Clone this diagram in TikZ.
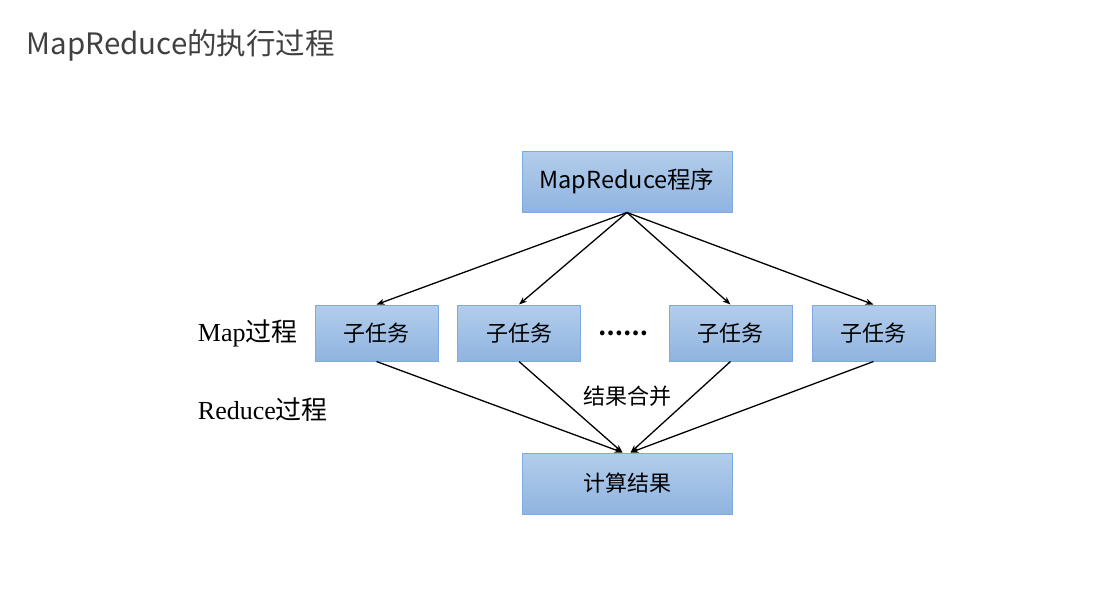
\documentclass[tikz,border=0pt]{standalone}
\usepackage{fontspec}
\setmainfont{Noto Sans CJK SC}
\newfontfamily\tnr{Liberation Serif}
\usepackage{tikz}
\usetikzlibrary{arrows.meta,positioning}

\definecolor{boxtop}{HTML}{B3CDEB}
\definecolor{boxbot}{HTML}{8FB4E0}
\definecolor{boxline}{HTML}{7FAAE0}
\definecolor{titlegray}{HTML}{404040}

\tikzset{
  task/.style={draw=boxline, line width=1pt, top color=boxtop, bottom color=boxbot,
    minimum width=123pt, minimum height=56pt, inner sep=0pt,
    font=\fontsize{22}{26}\selectfont},
  bigtask/.style={task, minimum width=210pt, minimum height=61pt},
  phase/.style={anchor=west, font=\fontsize{26}{30}\selectfont}
}

\begin{document}
\begin{tikzpicture}[x=1pt,y=-1pt,node distance=2cm,on grid,auto,
    >={Stealth[length=8pt,width=6pt]}, line width=1.3pt]
    \useasboundingbox (0,0) rectangle (1117,592);
    \node[anchor=west, text=titlegray, font=\fontsize{29.5}{34}\selectfont] (title) at (23,45) {MapReduce的执行过程};

    \node[bigtask, font=\fontsize{23.5}{28}\selectfont] (prog) at (627,181.5) {MapReduce程序};
    \node[task] (t_1) at (376.5,333) {子任务};
    \node[task] [right=142.5pt of t_1] (t_2) {子任务};
    \node [right=104pt of t_2, font=\bfseries\fontsize{22}{26}\selectfont] (dots) {……};
    \node[task] [right=107.5pt of dots] (t_3) {子任务};
    \node[task] [right=143pt of t_3] (t_4) {子任务};
    \node[bigtask] (res) at (627,483.5) {计算结果};

    \node[phase] (map) at (194,333) {{\tnr Map}过程};
    \node[phase] (reduce) at (194,410) {{\tnr Reduce}过程};
    \node[font=\fontsize{22}{26}\selectfont] (merge) at (627.5,396) {结果合并};

    \path[->]
    (prog.south) edge (t_1.north)
    (prog.south) edge (t_2.north)
    (prog.south) edge (t_3.north)
    (prog.south) edge (t_4.north)
    (t_1.south) edge ([xshift=-4.5pt]res.north)
    (t_2.south) edge ([xshift=-4.5pt]res.north)
    (t_3.south) edge ([xshift=3.5pt]res.north)
    (t_4.south) edge ([xshift=3.5pt]res.north)
    ;
\end{tikzpicture}
\end{document}
